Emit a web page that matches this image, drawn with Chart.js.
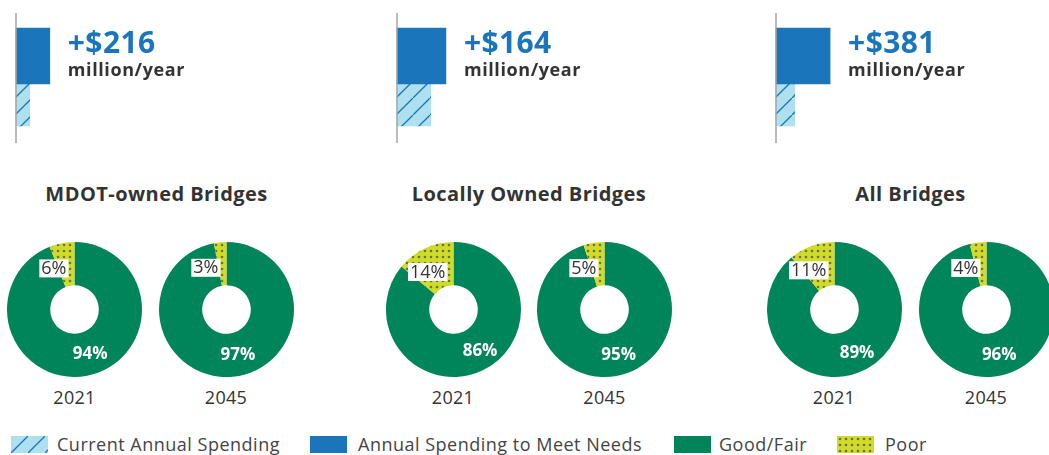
<!DOCTYPE html>
<html><head><meta charset="utf-8">
<script src="https://cdn.jsdelivr.net/npm/chart.js@4/dist/chart.umd.min.js"></script>
<style>
html,body{margin:0;padding:0;background:#fff;overflow:hidden;width:1049px;height:455px;}
body{position:relative;font-family:"Open Sans",sans-serif;}
canvas{position:absolute;display:block;}
.title{position:absolute;top:181px;height:26px;line-height:26px;font-weight:700;font-size:20px;letter-spacing:0.45px;color:#333;transform:translateX(-50%);white-space:nowrap;}
.year{position:absolute;top:385px;height:24px;line-height:24px;font-weight:500;font-size:18px;letter-spacing:0.3px;color:#333;transform:translateX(-50%);white-space:nowrap;}
.lg{position:absolute;top:432px;height:24px;line-height:24px;font-size:18px;color:#444;white-space:nowrap;letter-spacing:0.5px;}
</style></head>
<body>
<script>
// ---- data ----
const groups = ['MDOT-owned Bridges', 'Locally Owned Bridges', 'All Bridges'];
const spendingSeries = ['Current Annual Spending', 'Annual Spending to Meet Needs'];
const currentSpending = [148, 363, 202];   // $ million / year (estimated)
const neededSpending  = [364, 527, 583];   // $ million / year (estimated)
const conditionLabels = ['Good/Fair', 'Poor'];
const years = ['2021', '2045'];
const goodFair2021 = [94, 86, 89];
const poor2021     = [6, 14, 11];
const goodFair2045 = [97, 95, 96];
const poor2045     = [3, 5, 4];

// ---- styles / layout ----
const BLUE = '#1a75bb', LIGHT = '#aee0f0', GREEN = '#00855a', YELLOW = '#cfdc2a', DOT = '#6e7236';
const axisX = [16, 397, 776];
const titleX = [156.5, 529, 910.5];
const donutX = [[74.5, 226], [453, 604.5], [834, 986]];
const XMAX = 4300;

function hatchPattern(ctx) {
  const c = document.createElement('canvas'); c.width = 17; c.height = 17;
  const g = c.getContext('2d');
  g.fillStyle = LIGHT; g.fillRect(0, 0, 17, 17);
  g.strokeStyle = BLUE; g.lineWidth = 1.3;
  g.beginPath();
  g.moveTo(-2, 19); g.lineTo(19, -2);
  g.stroke();
  return ctx.createPattern(c, 'repeat');
}
function dotPattern(ctx) {
  const c = document.createElement('canvas'); c.width = 6; c.height = 6;
  const g = c.getContext('2d');
  g.fillStyle = YELLOW; g.fillRect(0, 0, 6, 6);
  g.fillStyle = DOT; g.beginPath(); g.arc(3, 3, 1.3, 0, Math.PI * 2); g.fill();
  return ctx.createPattern(c, 'repeat');
}
function mkCanvas(x, y, w, h) {
  const cv = document.createElement('canvas');
  cv.width = w; cv.height = h;
  cv.style.left = x + 'px'; cv.style.top = y + 'px';
  cv.style.width = w + 'px'; cv.style.height = h + 'px';
  document.body.appendChild(cv);
  return cv;
}
function mkDiv(cls, x, text) {
  const d = document.createElement('div');
  d.className = cls; d.style.left = x + 'px'; d.textContent = text;
  document.body.appendChild(d);
  return d;
}

const axisLine = {
  id: 'axisLine',
  afterDatasetsDraw(chart) {
    const ctx = chart.ctx, x = chart.chartArea.left;
    ctx.save(); ctx.strokeStyle = '#a6a6a6'; ctx.lineWidth = 1.5;
    ctx.beginPath(); ctx.moveTo(x, 0); ctx.lineTo(x, chart.height); ctx.stroke();
    ctx.restore();
  }
};
const gapLabel = {
  id: 'gapLabel',
  afterDatasetsDraw(chart) {
    const ctx = chart.ctx;
    const el = chart.getDatasetMeta(0).data[0];
    const need = chart.data.datasets[0].data[0];
    const cur = chart.data.datasets[1].data[1];
    const x = el.x + 18;
    ctx.save();
    ctx.textAlign = 'left'; ctx.textBaseline = 'alphabetic';
    ctx.fillStyle = BLUE; ctx.font = '700 30px "Open Sans"';
    ctx.letterSpacing = '0.4px';
    ctx.fillText('+$' + (need - cur), x, 40);
    ctx.fillStyle = '#333'; ctx.font = '700 18px "Open Sans"';
    ctx.letterSpacing = '0.6px';
    ctx.fillText('million/year', x, 63);
    ctx.restore();
  }
};
const donutLabels = {
  id: 'donutLabels',
  afterDatasetsDraw(chart) {
    const ctx = chart.ctx;
    const arcs = chart.getDatasetMeta(0).data;
    const vals = chart.data.datasets[0].data;
    const cx = arcs[0].x;
    ctx.save();
    // good/fair
    const p0 = arcs[0].tooltipPosition();
    ctx.fillStyle = '#fff'; ctx.font = '700 17px "Open Sans"';
    ctx.textAlign = 'center'; ctx.textBaseline = 'middle';
    ctx.fillText(vals[0] + '%', p0.x + 7, p0.y);
    // poor
    const p1 = arcs[1].tooltipPosition();
    ctx.font = '400 18px "Open Sans"';
    const t = vals[1] + '%';
    const w = ctx.measureText(t).width + 4;
    const right = cx - 6, yc = p1.y + 4;
    ctx.fillStyle = '#fff';
    ctx.fillRect(right - w, yc - 9, w, 18);
    ctx.fillStyle = '#333'; ctx.textAlign = 'right';
    ctx.fillText(t, right - 2, yc + 0.5);
    ctx.restore();
  }
};

groups.forEach((g, i) => {
  // spending bars
  const cv = mkCanvas(axisX[i] - 1, 13, 400, 130);
  const ctx = cv.getContext('2d');
  new Chart(cv, {
    type: 'bar',
    data: {
      labels: [spendingSeries[1], spendingSeries[0]],
      datasets: [
        { label: spendingSeries[1], data: [neededSpending[i], null], backgroundColor: BLUE, borderWidth: 0, barThickness: 56, grouped: false, clip: false },
        { label: spendingSeries[0], data: [null, currentSpending[i]], backgroundColor: hatchPattern(ctx), borderWidth: 0, barThickness: 42, grouped: false, clip: false }
      ]
    },
    options: {
      indexAxis: 'y', responsive: false, animation: false, events: [],
      layout: { padding: { left: 1, right: 0, top: 18.5, bottom: 13.5 } },
      scales: { x: { display: false, min: 0, max: XMAX }, y: { display: false } },
      plugins: { legend: { display: false }, tooltip: { enabled: false } }
    },
    plugins: [axisLine, gapLabel]
  });
  mkDiv('title', titleX[i], g);

  const sets = [[goodFair2021[i], poor2021[i]], [goodFair2045[i], poor2045[i]]];
  sets.forEach((vals, j) => {
    const cx = donutX[i][j];
    const dc = mkCanvas(cx - 67.5, 241.5, 135, 135);
    const dctx = dc.getContext('2d');
    new Chart(dc, {
      type: 'doughnut',
      data: { labels: conditionLabels, datasets: [{ data: vals, backgroundColor: [GREEN, dotPattern(dctx)], borderWidth: 0 }] },
      options: {
        responsive: false, animation: false, events: [], cutout: '36%',
        layout: { padding: 0 },
        plugins: { legend: { display: false }, tooltip: { enabled: false } }
      },
      plugins: [donutLabels]
    });
    mkDiv('year', cx, years[j]);
  });
});

// legend
const legendItems = [
  { x: 11, tx: 57, text: spendingSeries[0], fill: c => hatchPattern(c) },
  { x: 310, tx: 358, text: spendingSeries[1], fill: () => BLUE },
  { x: 674, tx: 719, text: conditionLabels[0], fill: () => GREEN },
  { x: 837, tx: 885, text: conditionLabels[1], fill: c => dotPattern(c) }
];
legendItems.forEach(it => {
  const sw = mkCanvas(it.x, 436, 37, 17);
  const c = sw.getContext('2d');
  c.fillStyle = it.fill(c); c.fillRect(0, 0, 37, 17);
  mkDiv('lg', it.tx, it.text);
});
</script>
</body></html>
